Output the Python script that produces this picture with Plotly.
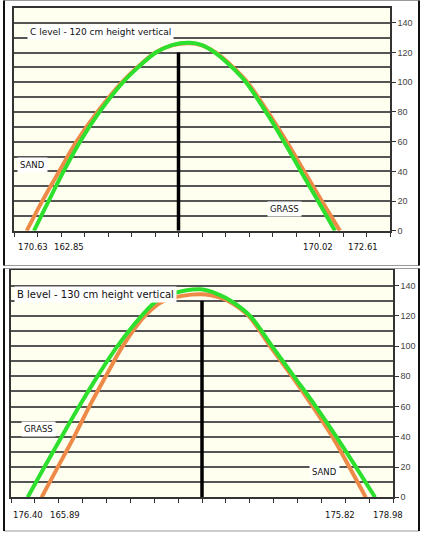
import plotly.graph_objects as go

# ---------------- data ----------------
# Panel C (top)
c_title = "C level - 120 cm height vertical"
c_green_x = [0.85, 1.47, 2.11, 2.81, 3.64, 4.64, 5.28, 6.04, 6.72, 7.49, 8.0, 8.55, 9.28, 9.87, 10.72, 11.49, 12.21, 12.94, 13.66]
c_green_y = [0, 20, 40, 60, 80, 100, 110, 120, 125, 126.5, 125, 120, 110, 100, 80, 60, 40, 20, 0]
c_orange_x = [0.54, 1.2, 1.92, 2.66, 3.55, 4.6, 5.25, 6.02, 6.72, 7.49, 8.0, 8.58, 9.33, 9.93, 10.8, 11.6, 12.35, 13.1, 13.87]
c_orange_y = [0, 20, 40, 60, 80, 100, 110, 120, 124.8, 126.2, 124.8, 120, 110, 100, 80, 60, 40, 20, 0]
c_bar_x = 7
c_bar_h = 120
c_xlabels = ["170.63", "162.85", "170.02", "172.61"]
c_xlabel_pos = [0.79, 2.34, 12.94, 14.85]
c_left_label, c_right_label = "SAND", "GRASS"

# Panel B (bottom)
b_title = "B level - 130 cm height vertical"
b_green_x = [0.70, 1.40, 2.12, 2.85, 3.62, 4.46, 5.47, 6.12, 6.83, 7.95, 8.71, 9.30, 10.01, 10.93, 11.85, 12.77, 13.63, 14.45, 15.25]
b_green_y = [0, 20, 40, 60, 80, 100, 120, 130, 135, 137.5, 134, 129, 120, 100, 80, 60, 40, 20, 0]
b_orange_x = [1.28, 1.96, 2.64, 3.28, 3.97, 4.68, 5.61, 6.42, 7.95, 8.85, 9.30, 9.95, 10.85, 11.77, 12.64, 13.46, 14.17, 14.86]
b_orange_y = [0, 20, 40, 60, 80, 100, 120, 130, 134.2, 131.5, 128, 120, 100, 80, 60, 40, 20, 0]
b_bar_x = 8
b_bar_h = 130
b_xlabels = ["176.40", "165.89", "175.82", "178.98"]
b_xlabel_pos = [0.71, 2.25, 13.8, 15.8]
b_left_label, b_right_label = "GRASS", "SAND"

y_ticks = [0, 20, 40, 60, 80, 100, 120, 140]
x_ticks = list(range(0, 17))

# ---------------- styles ----------------
W, H = 423, 537
GREEN = "#2EE02E"
ORANGE = "#EE8A48"
BG = "#FFFFF0"
GRID = "#555555"
FONT = "DejaVu Sans"

fig = go.Figure()

def add_panel(xa, ya, gx, gy, ox, oy, bx, bh):
    fig.add_trace(go.Scatter(x=ox, y=oy, mode="lines", line=dict(color=ORANGE, width=4, shape="spline", smoothing=1.0),
                             xaxis=xa, yaxis=ya, showlegend=False, hoverinfo="skip"))
    fig.add_trace(go.Scatter(x=gx, y=gy, mode="lines", line=dict(color=GREEN, width=4, shape="spline", smoothing=1.0),
                             xaxis=xa, yaxis=ya, showlegend=False, hoverinfo="skip"))
    fig.add_trace(go.Scatter(x=[bx, bx], y=[0, bh], mode="lines", line=dict(color="black", width=3.5),
                             xaxis=xa, yaxis=ya, showlegend=False, hoverinfo="skip"))

add_panel("x", "y", c_green_x, c_green_y, c_orange_x, c_orange_y, c_bar_x, c_bar_h)
add_panel("x2", "y2", b_green_x, b_green_y, b_orange_x, b_orange_y, b_bar_x, b_bar_h)

def xaxis_cfg(domain, anchor):
    return dict(domain=domain, range=[0, 16], showgrid=False, zeroline=False, anchor=anchor,
                tickmode="array", tickvals=x_ticks, ticks="outside", ticklen=4, tickcolor="#333",
                showticklabels=False, showline=True, linecolor="#333", linewidth=1.5, mirror=True)

def yaxis_cfg(domain, anchor):
    return dict(domain=domain, range=[0, 150], side="right", anchor=anchor,
                tickmode="array", tickvals=y_ticks, ticks="outside", ticklen=4, tickcolor="#333",
                tickfont=dict(family="Liberation Sans", size=9, color="#444"),
                showgrid=True, gridcolor=GRID, gridwidth=1.5, zeroline=False,
                minor=dict(dtick=10, showgrid=True, gridcolor=GRID, gridwidth=1.5, ticks=""),
                showline=True, linecolor="#333", linewidth=1.5, mirror=True)

top_dom_x = [14 / W, 390 / W]
top_dom_y = [1 - 233 / H, 1 - 8 / H]
bot_dom_x = [11 / W, 393 / W]
bot_dom_y = [1 - 502 / H, 1 - 273 / H]

ann = []
def label(text, x, y, xa, ya, size=8.5, xanchor="center"):
    ann.append(dict(text=text, x=x, y=y, xref=xa, yref=ya, showarrow=False, xanchor=xanchor, yanchor="middle",
                    font=dict(family=FONT, size=size, color="#111"), bgcolor="white", borderpad=2))

label(c_title, 0.55, 134, "x", "y", size=9, xanchor="left")
label(c_left_label, 0.77, 44.5, "x", "y")
label(c_right_label, 11.53, 14.5, "x", "y")
label(b_title, 0.12, 134, "x2", "y2", size=10, xanchor="left")
label(b_left_label, 1.17, 45.5, "x2", "y2")
label(b_right_label, 13.15, 16.5, "x2", "y2")

for t, p in zip(c_xlabels, c_xlabel_pos):
    ann.append(dict(text=t, x=p, y=1 - 249 / H, xref="x", yref="paper", showarrow=False, yanchor="middle",
                    font=dict(family=FONT, size=8.5, color="#111")))
for t, p in zip(b_xlabels, b_xlabel_pos):
    ann.append(dict(text=t, x=p, y=1 - 520 / H, xref="x2", yref="paper", showarrow=False, yanchor="middle",
                    font=dict(family=FONT, size=8.5, color="#111")))

shapes = []
def frame(y0px, y1px):
    shapes.append(dict(type="rect", xref="paper", yref="paper", x0=4 / W, x1=419 / W,
                       y0=1 - y1px / H, y1=1 - y0px / H, line=dict(color="#999", width=1)))
    for xpx in (4, 419):
        shapes.append(dict(type="line", xref="paper", yref="paper", x0=xpx / W, x1=xpx / W,
                           y0=1 - y1px / H, y1=1 - y0px / H, line=dict(color="#111", width=2)))
frame(0.5, 268)
frame(271, 536)

fig.update_layout(
    width=W, height=H, margin=dict(l=0, r=0, t=0, b=0),
    paper_bgcolor="white", plot_bgcolor=BG,
    xaxis=xaxis_cfg(top_dom_x, "y"), yaxis=yaxis_cfg(top_dom_y, "x"),
    xaxis2=xaxis_cfg(bot_dom_x, "y2"), yaxis2=yaxis_cfg(bot_dom_y, "x2"),
    annotations=ann, shapes=shapes, showlegend=False,
)

fig.write_html("out.html")
